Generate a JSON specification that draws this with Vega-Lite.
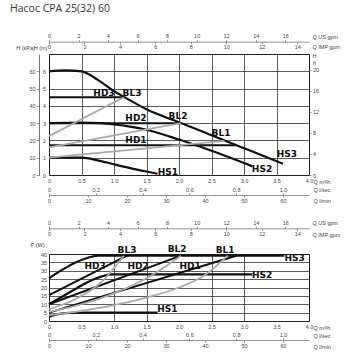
{
  "$schema": "https://vega.github.io/schema/vega-lite/v6.json",
  "padding": {"left": 10, "top": 3, "right": 5, "bottom": 5},
  "background": "white",
  "bounds": "flush",
  "spacing": 79,
  "title": {"text": "Насос CPA 25(32) 60", "anchor": "start", "frame": "group", "font": "Open Sans", "fontSize": 10.5, "fontWeight": "normal", "color": "#333", "offset": 19, "dx": -39},
  "config": {
    "view": {"stroke": "#222", "strokeWidth": 1},
    "axis": {"labelFont": "Liberation Sans", "labelFontSize": 5.5, "labelColor": "#444", "titleFont": "Liberation Sans", "titleFontSize": 5.5, "titleFontWeight": "normal", "titleColor": "#444", "gridColor": "#333", "gridOpacity": 1, "gridWidth": 0.8, "labelOverlap": false, "labelFlush": false, "domainColor": "#777", "tickColor": "#777", "domainWidth": 0.8, "tickWidth": 0.8},
    "text": {"font": "DejaVu Sans", "fontWeight": "bold", "fontSize": 9, "color": "#111"}
  },
  "datasets": {
    "hc": [
      {"s":"HS3","k":"hs","o":0,"q":0,"h":6.0},{"s":"HS3","k":"hs","o":1,"q":0.25,"h":6.05},{"s":"HS3","k":"hs","o":2,"q":0.5,"h":6.0},{"s":"HS3","k":"hs","o":3,"q":0.75,"h":5.5},{"s":"HS3","k":"hs","o":4,"q":1.0,"h":4.85},{"s":"HS3","k":"hs","o":5,"q":1.2,"h":4.42},{"s":"HS3","k":"hs","o":6,"q":1.5,"h":3.8},{"s":"HS3","k":"hs","o":7,"q":2.0,"h":3.05},{"s":"HS3","k":"hs","o":8,"q":2.5,"h":2.3},{"s":"HS3","k":"hs","o":9,"q":3.0,"h":1.55},{"s":"HS3","k":"hs","o":10,"q":3.6,"h":0.65},
      {"s":"HS2","k":"hs","o":0,"q":0,"h":3.0},{"s":"HS2","k":"hs","o":1,"q":0.5,"h":3.03},{"s":"HS2","k":"hs","o":2,"q":0.8,"h":3.0},{"s":"HS2","k":"hs","o":3,"q":1.0,"h":2.93},{"s":"HS2","k":"hs","o":4,"q":1.5,"h":2.62},{"s":"HS2","k":"hs","o":5,"q":2.0,"h":2.05},{"s":"HS2","k":"hs","o":6,"q":2.5,"h":1.4},{"s":"HS2","k":"hs","o":7,"q":3.13,"h":0.5},
      {"s":"HS1","k":"hs","o":0,"q":0,"h":1.0},{"s":"HS1","k":"hs","o":1,"q":0.5,"h":1.0},{"s":"HS1","k":"hs","o":2,"q":0.75,"h":0.85},{"s":"HS1","k":"hs","o":3,"q":1.0,"h":0.62},{"s":"HS1","k":"hs","o":4,"q":1.25,"h":0.4},{"s":"HS1","k":"hs","o":5,"q":1.5,"h":0.2},{"s":"HS1","k":"hs","o":6,"q":1.67,"h":0.07},
      {"s":"HD3","k":"hd","o":0,"q":0,"h":4.5},{"s":"HD3","k":"hd","o":1,"q":1.15,"h":4.5},
      {"s":"HD2","k":"hd","o":0,"q":0,"h":3.0},{"s":"HD2","k":"hd","o":1,"q":2.03,"h":3.0},
      {"s":"HD1","k":"hd","o":0,"q":0,"h":1.72},{"s":"HD1","k":"hd","o":1,"q":2.88,"h":1.72},
      {"s":"BL3","k":"bl","o":0,"q":0,"h":2.25},{"s":"BL3","k":"bl","o":1,"q":1.15,"h":4.5},
      {"s":"BL2","k":"bl","o":0,"q":0,"h":1.6},{"s":"BL2","k":"bl","o":1,"q":2.03,"h":3.0},
      {"s":"BL1","k":"bl","o":0,"q":0,"h":1.0},{"s":"BL1","k":"bl","o":1,"q":2.7,"h":1.98}
    ],
    "pc": [
      {"s":"HS3","k":"hs","o":0,"q":0,"p":25.5},{"s":"HS3","k":"hs","o":1,"q":0.2,"p":30.5},{"s":"HS3","k":"hs","o":2,"q":0.4,"p":34.8},{"s":"HS3","k":"hs","o":3,"q":0.6,"p":37.8},{"s":"HS3","k":"hs","o":4,"q":0.75,"p":39},{"s":"HS3","k":"hs","o":5,"q":3.62,"p":39},
      {"s":"HS2","k":"hs","o":0,"q":0,"p":10},{"s":"HS2","k":"hs","o":1,"q":0.2,"p":14.5},{"s":"HS2","k":"hs","o":2,"q":0.4,"p":19},{"s":"HS2","k":"hs","o":3,"q":0.6,"p":23.3},{"s":"HS2","k":"hs","o":4,"q":0.8,"p":26.5},{"s":"HS2","k":"hs","o":5,"q":0.95,"p":27.8},{"s":"HS2","k":"hs","o":6,"q":3.13,"p":27.8},
      {"s":"HS1","k":"hs","o":0,"q":0,"p":2.5},{"s":"HS1","k":"hs","o":1,"q":0.1,"p":3.8},{"s":"HS1","k":"hs","o":2,"q":0.25,"p":4.7},{"s":"HS1","k":"hs","o":3,"q":0.4,"p":5},{"s":"HS1","k":"hs","o":4,"q":1.67,"p":5},
      {"s":"HD3","k":"hd","o":0,"q":0,"p":15.5},{"s":"HD3","k":"hd","o":1,"q":1.2,"p":39},
      {"s":"HD2","k":"hd","o":0,"q":0,"p":10},{"s":"HD2","k":"hd","o":1,"q":2.03,"p":39},
      {"s":"HD1","k":"hd","o":0,"q":0,"p":5},{"s":"HD1","k":"hd","o":1,"q":2.88,"p":39},
      {"s":"BL3","k":"bl","o":0,"q":0,"p":7},{"s":"BL3","k":"bl","o":1,"q":0.4,"p":13},{"s":"BL3","k":"bl","o":2,"q":0.8,"p":23},{"s":"BL3","k":"bl","o":3,"q":1.15,"p":39},
      {"s":"BL2","k":"bl","o":0,"q":0,"p":5.5},{"s":"BL2","k":"bl","o":1,"q":0.5,"p":10},{"s":"BL2","k":"bl","o":2,"q":1.0,"p":16.5},{"s":"BL2","k":"bl","o":3,"q":1.5,"p":25.5},{"s":"BL2","k":"bl","o":4,"q":2.03,"p":39},
      {"s":"BL1","k":"bl","o":0,"q":0,"p":3.5},{"s":"BL1","k":"bl","o":1,"q":0.5,"p":6},{"s":"BL1","k":"bl","o":2,"q":1.0,"p":9.5},{"s":"BL1","k":"bl","o":3,"q":1.5,"p":14},{"s":"BL1","k":"bl","o":4,"q":2.0,"p":20},{"s":"BL1","k":"bl","o":5,"q":2.4,"p":27.5},{"s":"BL1","k":"bl","o":6,"q":2.75,"p":39}
    ],
    "hl": [
      {"t":"HD3","q":0.846,"h":4.74},{"t":"BL3","q":1.277,"h":4.74},{"t":"HD2","q":1.338,"h":3.29},{"t":"BL2","q":1.985,"h":3.41},{"t":"HD1","q":1.338,"h":2.02},{"t":"BL1","q":2.646,"h":2.43},{"t":"HS3","q":3.66,"h":1.21},{"t":"HS2","q":3.277,"h":0.35},{"t":"HS1","q":1.83,"h":0.17}
    ],
    "pl": [
      {"t":"BL3","q":1.2,"p":42.4},{"t":"BL2","q":1.97,"p":43},{"t":"BL1","q":2.71,"p":42.4},{"t":"HS3","q":3.78,"p":37.6},{"t":"HS2","q":3.28,"p":27.7},{"t":"HS1","q":1.82,"p":7.0},{"t":"HD3","q":0.71,"p":33},{"t":"HD2","q":1.37,"p":33.1},{"t":"HD1","q":2.17,"p":33.1}
    ],
    "d": [{"a": 0}]
  },
  "vconcat": [
    {
      "width": 260,
      "height": 121,
      "resolve": {"scale": {"x": "independent", "y": "independent"}},
      "layer": [
        {
          "data": {"name": "d"},
          "mark": {"type": "point", "opacity": 0},
          "encoding": {
            "x": {"field": "a", "type": "quantitative", "scale": {"domain": [0, 4], "nice": false, "zero": false},
              "axis": {"orient": "bottom", "values": [0.5, 1, 1.5, 2, 2.5, 3, 3.5], "grid": true, "zindex": 0, "domain": false, "ticks": false, "labels": false, "title": null}},
            "y": {"field": "a", "type": "quantitative", "scale": {"domain": [0, 7], "nice": false, "zero": false},
              "axis": {"orient": "left", "values": [1, 2, 3, 4, 5, 6], "grid": true, "zindex": 0, "domain": false, "ticks": false, "labels": false, "title": null}}
          }
        },
        {
          "data": {"name": "hc"},
          "mark": {"type": "line", "interpolate": "monotone"},
          "encoding": {
            "x": {"field": "q", "type": "quantitative", "scale": {"domain": [0, 4], "nice": false, "zero": false},
              "axis": {"orient": "bottom", "values": [0, 0.5, 1, 1.5, 2, 2.5, 3, 3.5, 4], "grid": false, "domain": false, "ticks": false, "labelPadding": 3, "labelExpr": "datum.value == 0 ? '0' : format(datum.value, '.1f')", "title": "Q m³/h", "titleX": 264, "titleY": 6.7, "titleAlign": "left", "titleBaseline": "middle", "titleAngle": 0}},
            "y": {"field": "h", "type": "quantitative", "scale": {"domain": [0, 7], "nice": false, "zero": false},
              "axis": {"orient": "left", "values": [0, 1, 2, 3, 4, 5, 6], "grid": false, "domain": false, "ticks": false, "labelPadding": 3.5, "title": "H (m)", "titleX": -9, "titleY": -7, "titleAlign": "center", "titleBaseline": "middle", "titleAngle": 0}},
            "detail": {"field": "s"},
            "order": {"field": "o"},
            "color": {"field": "k", "type": "nominal", "scale": {"domain": ["hs", "hd", "bl"], "range": ["#111", "#111", "#aaa"]}, "legend": null},
            "strokeWidth": {"field": "k", "type": "nominal", "scale": {"domain": ["hs", "hd", "bl"], "range": [2.2, 1.8, 0.7]}, "legend": null}
          }
        },
        {
          "data": {"name": "hl"},
          "mark": {"type": "text", "align": "center", "baseline": "middle"},
          "encoding": {
            "x": {"field": "q", "type": "quantitative", "scale": {"domain": [0, 4], "nice": false, "zero": false}, "axis": null},
            "y": {"field": "h", "type": "quantitative", "scale": {"domain": [0, 7], "nice": false, "zero": false}, "axis": null},
            "text": {"field": "t"}
          }
        },
        {
          "data": {"name": "d"},
          "mark": {"type": "point", "opacity": 0},
          "encoding": {
            "x": {"field": "a", "type": "quantitative", "scale": {"domain": [0, 1]}, "axis": null},
            "y": {"field": "a", "type": "quantitative", "scale": {"domain": [0, 70], "nice": false, "zero": false},
              "axis": {"orient": "left", "offset": 10, "values": [0, 10, 20, 30, 40, 50, 60], "grid": false, "domain": true, "domainColor": "#555", "ticks": true, "tickSize": 2.5, "labelPadding": 1.5, "title": "H (kPa)", "titleX": -14, "titleY": -7, "titleAlign": "center", "titleBaseline": "middle", "titleAngle": 0}}
          }
        },
        {
          "data": {"name": "d"},
          "mark": {"type": "point", "opacity": 0},
          "encoding": {
            "x": {"field": "a", "type": "quantitative", "scale": {"domain": [0, 1]}, "axis": null},
            "y": {"field": "a", "type": "quantitative", "scale": {"domain": [0, 22.966], "nice": false, "zero": false},
              "axis": {"orient": "right", "values": [0, 4, 8, 12, 16, 20], "grid": false, "domain": false, "ticks": true, "tickSize": 2, "labelPadding": 1.5, "title": ["H", "ft"], "titleX": 5, "titleY": 1, "titleAlign": "center", "titleBaseline": "middle", "titleAngle": 0, "titleLineHeight": 7}}
          }
        },
        {
          "data": {"name": "d"},
          "mark": {"type": "point", "opacity": 0},
          "encoding": {
            "y": {"field": "a", "type": "quantitative", "scale": {"domain": [0, 1]}, "axis": null},
            "x": {"field": "a", "type": "quantitative", "scale": {"domain": [0, 1.11111], "nice": false, "zero": false},
              "axis": {"orient": "bottom", "offset": 20, "values": [0, 0.2, 0.4, 0.6, 0.8, 1.0], "grid": false, "domain": true, "ticks": true, "tickSize": -2, "labelPadding": -1, "labelBaseline": "bottom", "labelExpr": "datum.value == 0 ? '0' : format(datum.value, '.1f')", "title": "Q l/sec", "titleX": 264, "titleY": -5.7, "titleAlign": "left", "titleBaseline": "middle", "titleAngle": 0}}
          }
        },
        {
          "data": {"name": "d"},
          "mark": {"type": "point", "opacity": 0},
          "encoding": {
            "y": {"field": "a", "type": "quantitative", "scale": {"domain": [0, 1]}, "axis": null},
            "x": {"field": "a", "type": "quantitative", "scale": {"domain": [0, 66.667], "nice": false, "zero": false},
              "axis": {"orient": "bottom", "offset": 20, "values": [0, 10, 20, 30, 40, 50, 60], "grid": false, "domain": false, "ticks": true, "tickSize": 2, "labelPadding": 1, "title": "Q l/min", "titleX": 264, "titleY": 5, "titleAlign": "left", "titleBaseline": "middle", "titleAngle": 0}}
          }
        },
        {
          "data": {"name": "d"},
          "mark": {"type": "point", "opacity": 0},
          "encoding": {
            "y": {"field": "a", "type": "quantitative", "scale": {"domain": [0, 1]}, "axis": null},
            "x": {"field": "a", "type": "quantitative", "scale": {"domain": [0, 17.611], "nice": false, "zero": false},
              "axis": {"orient": "top", "offset": 12.3, "values": [0, 2, 4, 6, 8, 10, 12, 14, 16], "grid": false, "domain": true, "ticks": true, "tickSize": 2, "labelPadding": 1, "title": "Q US gpm", "titleX": 263, "titleY": -5.7, "titleAlign": "left", "titleBaseline": "middle", "titleAngle": 0}}
          }
        },
        {
          "data": {"name": "d"},
          "mark": {"type": "point", "opacity": 0},
          "encoding": {
            "y": {"field": "a", "type": "quantitative", "scale": {"domain": [0, 1]}, "axis": null},
            "x": {"field": "a", "type": "quantitative", "scale": {"domain": [0, 14.664], "nice": false, "zero": false},
              "axis": {"orient": "top", "offset": 12.3, "values": [0, 2, 4, 6, 8, 10, 12, 14], "grid": false, "domain": false, "ticks": true, "tickSize": -2, "labelPadding": -1, "labelBaseline": "top", "title": "Q IMP gpm", "titleX": 263, "titleY": 5, "titleAlign": "left", "titleBaseline": "middle", "titleAngle": 0}}
          }
        }
      ]
    },
    {
      "width": 260,
      "height": 67,
      "resolve": {"scale": {"x": "independent", "y": "independent"}},
      "layer": [
        {
          "data": {"name": "d"},
          "mark": {"type": "point", "opacity": 0},
          "encoding": {
            "x": {"field": "a", "type": "quantitative", "scale": {"domain": [0, 4], "nice": false, "zero": false},
              "axis": {"orient": "bottom", "values": [1, 1.5, 2.5, 3], "grid": true, "zindex": 0, "domain": false, "ticks": false, "labels": false, "title": null}},
            "y": {"field": "a", "type": "quantitative", "scale": {"domain": [0, 40], "nice": false, "zero": false},
              "axis": {"orient": "left", "values": [5, 10, 15, 20, 25, 30, 35], "grid": true, "zindex": 0, "domain": false, "ticks": false, "labels": false, "title": null}}
          }
        },
        {
          "data": {"name": "pc"},
          "mark": {"type": "line", "interpolate": "monotone"},
          "encoding": {
            "x": {"field": "q", "type": "quantitative", "scale": {"domain": [0, 4], "nice": false, "zero": false},
              "axis": {"orient": "bottom", "values": [0, 0.5, 1, 1.5, 2, 2.5, 3, 3.5, 4], "grid": false, "domain": false, "ticks": false, "labelPadding": 3.5, "labelExpr": "datum.value == 0 ? '0' : format(datum.value, '.1f')", "title": "Q m³/h", "titleX": 264, "titleY": 6.3, "titleAlign": "left", "titleBaseline": "middle", "titleAngle": 0}},
            "y": {"field": "p", "type": "quantitative", "scale": {"domain": [0, 40], "nice": false, "zero": false},
              "axis": {"orient": "left", "values": [0, 5, 10, 15, 20, 25, 30, 35, 40], "grid": false, "domain": false, "ticks": false, "labelPadding": 2.5, "title": "P (W)", "titleX": -12, "titleY": -9.7, "titleAlign": "center", "titleBaseline": "middle", "titleAngle": 0}},
            "detail": {"field": "s"},
            "order": {"field": "o"},
            "color": {"field": "k", "type": "nominal", "scale": {"domain": ["hs", "hd", "bl"], "range": ["#111", "#111", "#aaa"]}, "legend": null},
            "strokeWidth": {"field": "k", "type": "nominal", "scale": {"domain": ["hs", "hd", "bl"], "range": [2.2, 1.5, 0.7]}, "legend": null}
          }
        },
        {
          "data": {"name": "pl"},
          "mark": {"type": "text", "align": "center", "baseline": "middle"},
          "encoding": {
            "x": {"field": "q", "type": "quantitative", "scale": {"domain": [0, 4], "nice": false, "zero": false}, "axis": null},
            "y": {"field": "p", "type": "quantitative", "scale": {"domain": [0, 40], "nice": false, "zero": false}, "axis": null},
            "text": {"field": "t"}
          }
        },
        {
          "data": {"name": "d"},
          "mark": {"type": "point", "opacity": 0},
          "encoding": {
            "y": {"field": "a", "type": "quantitative", "scale": {"domain": [0, 1]}, "axis": null},
            "x": {"field": "a", "type": "quantitative", "scale": {"domain": [0, 1.11111], "nice": false, "zero": false},
              "axis": {"orient": "bottom", "offset": 19, "values": [0, 0.2, 0.4, 0.6, 0.8, 1.0], "grid": false, "domain": true, "ticks": true, "tickSize": -2, "labelPadding": -0.5, "labelBaseline": "bottom", "labelExpr": "datum.value == 0 ? '0' : format(datum.value, '.1f')", "title": "Q l/sec", "titleX": 264, "titleY": -5, "titleAlign": "left", "titleBaseline": "middle", "titleAngle": 0}}
          }
        },
        {
          "data": {"name": "d"},
          "mark": {"type": "point", "opacity": 0},
          "encoding": {
            "y": {"field": "a", "type": "quantitative", "scale": {"domain": [0, 1]}, "axis": null},
            "x": {"field": "a", "type": "quantitative", "scale": {"domain": [0, 66.667], "nice": false, "zero": false},
              "axis": {"orient": "bottom", "offset": 19, "values": [0, 10, 20, 30, 40, 50, 60], "grid": false, "domain": false, "ticks": true, "tickSize": 2, "labelPadding": 1.3, "title": "Q l/min", "titleX": 264, "titleY": 6, "titleAlign": "left", "titleBaseline": "middle", "titleAngle": 0}}
          }
        },
        {
          "data": {"name": "d"},
          "mark": {"type": "point", "opacity": 0},
          "encoding": {
            "y": {"field": "a", "type": "quantitative", "scale": {"domain": [0, 1]}, "axis": null},
            "x": {"field": "a", "type": "quantitative", "scale": {"domain": [0, 17.611], "nice": false, "zero": false},
              "axis": {"orient": "top", "offset": 25.7, "values": [0, 2, 4, 6, 8, 10, 12, 14, 16], "grid": false, "domain": true, "ticks": true, "tickSize": 2, "labelPadding": 1, "title": "Q US gpm", "titleX": 263, "titleY": -5.6, "titleAlign": "left", "titleBaseline": "middle", "titleAngle": 0}}
          }
        },
        {
          "data": {"name": "d"},
          "mark": {"type": "point", "opacity": 0},
          "encoding": {
            "y": {"field": "a", "type": "quantitative", "scale": {"domain": [0, 1]}, "axis": null},
            "x": {"field": "a", "type": "quantitative", "scale": {"domain": [0, 14.664], "nice": false, "zero": false},
              "axis": {"orient": "top", "offset": 25.7, "values": [0, 2, 4, 6, 8, 10, 12, 14], "grid": false, "domain": false, "ticks": true, "tickSize": -2, "labelPadding": -1, "labelBaseline": "top", "title": "Q IMP gpm", "titleX": 263, "titleY": 5.7, "titleAlign": "left", "titleBaseline": "middle", "titleAngle": 0}}
          }
        }
      ]
    }
  ]
}
